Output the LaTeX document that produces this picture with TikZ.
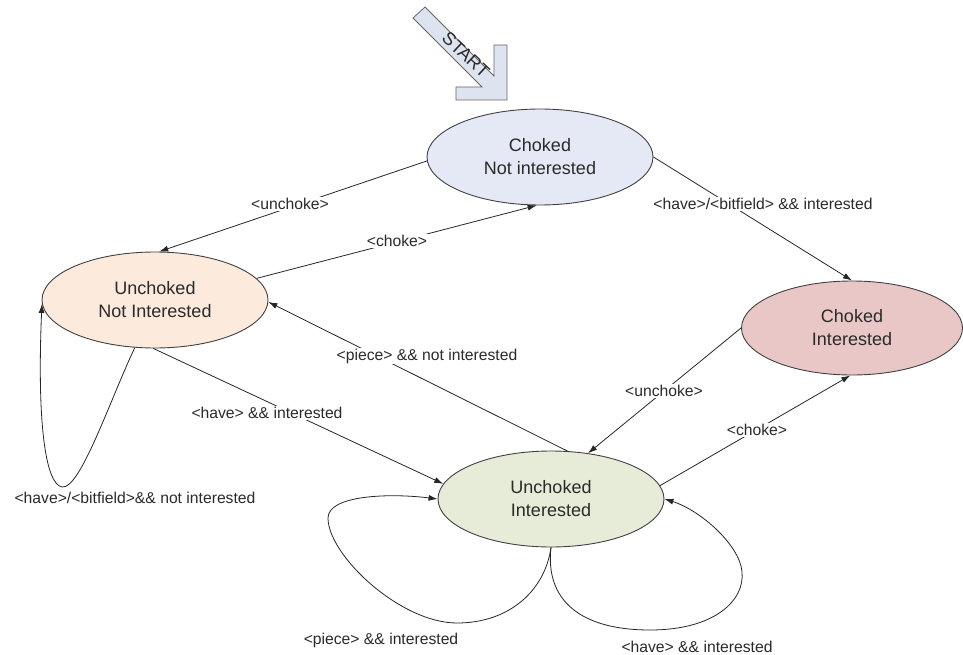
\documentclass[tikz,border=0pt]{standalone}
\usepackage{fontspec}
\setmainfont{Liberation Sans}
\usetikzlibrary{shapes.geometric,arrows.meta}

\definecolor{cniFill}{HTML}{E4E9F5}
\definecolor{uniFill}{HTML}{FCEADD}
\definecolor{ciFill}{HTML}{EAC7C7}
\definecolor{uiFill}{HTML}{E7ECD8}
\definecolor{startFill}{HTML}{DDE4F0}
\definecolor{ink}{HTML}{2A2A2A}

\tikzset{
  state/.style={ellipse, draw=black!75, line width=0.9pt,
    minimum width=226pt, minimum height=96pt, inner sep=0pt,
    align=center, font=\fontsize{18}{23}\selectfont, text=ink},
  trans/.style={draw=black!85, line width=0.8pt,
    -{Latex[length=9pt,width=6pt]}},
  lbl/.style={fill=white, inner sep=1pt,
    font=\fontsize{15.7}{18}\selectfont, text=ink},
  startshape/.style={fill=startFill, draw=black!60, line width=0.8pt,
    line join=miter},
}

\begin{document}
\begin{tikzpicture}[x=1pt,y=-1pt]
\useasboundingbox (0,0) rectangle (963,655);

% start marker: block arrow pointing down-right
\draw[startshape] (425,7) -- (494,76) -- (494,45) -- (507,45) -- (507,100)
  -- (456,100) -- (456,87) -- (482,87) -- (413,18) -- cycle;
\node[rotate=-43, font=\fontsize{18}{18}\selectfont, text=ink, inner sep=0pt]
  (starttxt) at (466,55) {START};

% states
\node[state, fill=cniFill] (cni) at (540,157) {Choked\\Not interested};
\node[state, fill=uniFill] (uni) at (155,300) {Unchoked\\Not Interested};
\node[state, fill=ciFill, minimum width=221pt, minimum height=94pt] (ci) at (852,328) {Choked\\Interested};
\node[state, fill=uiFill] (ui) at (551,499) {Unchoked\\Interested};

% transitions between states
\draw[trans] (cni.182) -- (uni.85);
\draw[trans] (uni.12) -- (cni.266);
\draw[trans] (cni.0) -- (ci.90);
\draw[trans] (ui.71) -- (uni.359);
\draw[trans] (uni.268) -- (ui.172);
\draw[trans] (ci.180) -- (ui.51);
\draw[trans] (ui.7) -- (ci.268);

% self loops
\draw[trans] (uni.247) .. controls (110,400) and (80,490) .. (62,487)
  .. controls (45,484) and (37,420) .. (uni.182);
\draw[trans] (ui.270) .. controls (545,590) and (510,623) .. (457,623)
  .. controls (400,623) and (328,555) .. (328,518)
  .. controls (328,495) and (390,493) .. (ui.180);
\draw[trans] (ui.270) .. controls (545,600) and (580,630) .. (650,630)
  .. controls (715,630) and (745,600) .. (742,572)
  .. controls (740,545) and (700,510) .. (ui.0);

% transition labels
\node[lbl] (l1) at (290,204) {<unchoke>};
\node[lbl] (l2) at (397,241) {<choke>};
\node[lbl] (l3) at (763,204) {<have>/<bitfield> \&\& interested};
\node[lbl] (l4) at (427,356) {<piece> \&\& not interested};
\node[lbl] (l5) at (267,413) {<have> \&\& interested};
\node[lbl] (l6) at (664,391) {<unchoke>};
\node[lbl] (l7) at (757,430) {<choke>};
\node[lbl] (l8) at (135,498) {<have>/<bitfield>\&\& not interested};
\node[lbl] (l9) at (381,640) {<piece> \&\& interested};
\node[lbl] (l10) at (697,647) {<have> \&\& interested};
\end{tikzpicture}
\end{document}
